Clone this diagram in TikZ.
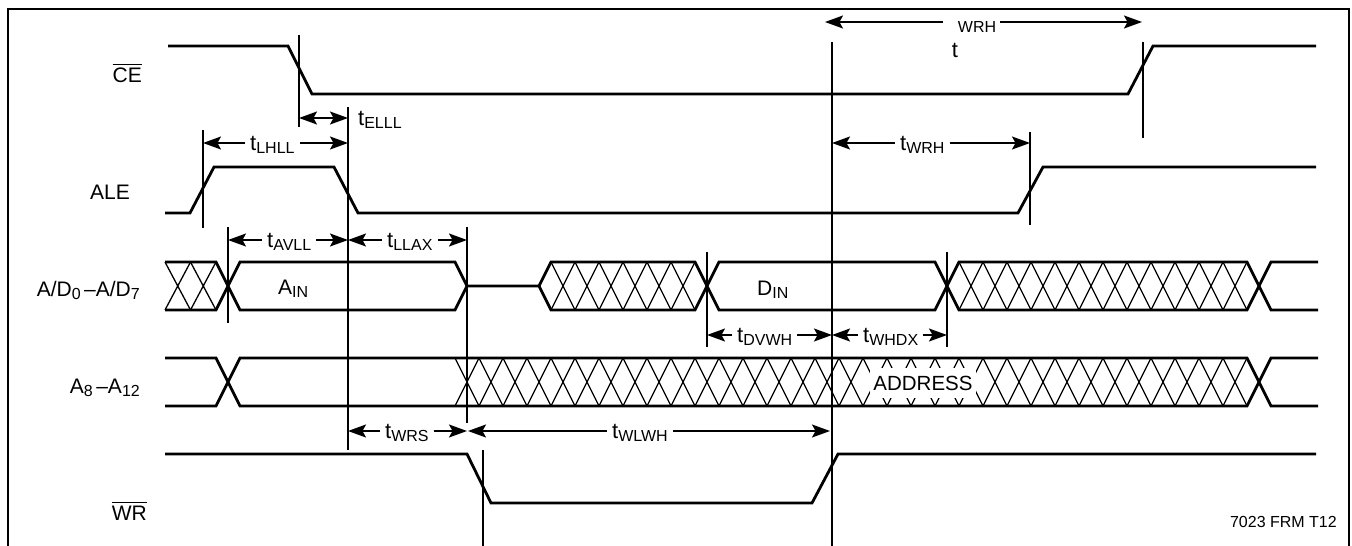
\documentclass[tikz,border=0pt]{standalone}
\usepackage{fontspec}
\setmainfont{Liberation Sans}
\usetikzlibrary{arrows.meta}

\newcommand\tsub[1]{\raisebox{-3pt}{\fontsize{16}{18}\selectfont #1}}
\newcommand\ovl[1]{\vbox{\hrule height 1.3pt\kern 2.5pt\hbox{#1}}}

\begin{document}
\begin{tikzpicture}[x=1pt, y=-1pt,
   >={Stealth[length=18pt,width=13pt,inset=3.5pt]},
   sig/.style={draw=black, line width=2.8pt},
   xing/.style={draw=black, line width=1.3pt},
   refline/.style={draw=black, line width=1.4pt},
   dim/.style={draw=black, line width=1.4pt, ->},
   siglabel/.style={font=\fontsize{21}{24}\selectfont, inner sep=0pt, anchor=base east},
   datalabel/.style={font=\fontsize{21}{24}\selectfont, inner sep=0pt, anchor=base west},
   tlabel/.style={font=\fontsize{22}{24}\selectfont, inner xsep=5pt, inner ysep=0pt, anchor=base west}]

	  \useasboundingbox (0,0) rectangle (1352,546);

	  % frame
	  \draw[line width=2.5pt] (8,548) -- (8,9) -- (1349,9) -- (1349,548);

	  % signal names
	  \node [siglabel] (ce) at (142,82) {\ovl{CE}};
	  \node [siglabel] (ale) at (130,199) {ALE};
	  \node [siglabel] (ad) at (140,296) {A/D\tsub{0}\,–A/D\tsub{7}};
	  \node [siglabel] (addr) at (140,393) {A\tsub{8}\,–A\tsub{12}};
	  \node [siglabel] (wr) at (147,520) {\ovl{WR}};

	  % CE, ALE, WR
	  \draw[sig] (168,46) -- (288,46) -- (312,94) -- (1128,94) -- (1153,46) -- (1316,46);
	  \draw[sig] (165,213) -- (190,213) -- (214,167) -- (334,167) -- (358,213) -- (1018,213) -- (1043,167) -- (1316,167);
	  \draw[sig] (165,454) -- (467,454) -- (491,503) -- (812,503) -- (838,454) -- (1316,454);

	  % A/D0-A/D7
	  \draw[sig] (165,262) -- (216,262) -- (240,310) -- (455,310) -- (467,286) -- (539,286) -- (551,310) -- (695,310)
	     -- (719,262) -- (935,262) -- (959,310) -- (1247,310) -- (1271,262) -- (1318,262);
	  \draw[sig] (165,310) -- (216,310) -- (240,262) -- (455,262) -- (467,286);
	  \draw[sig] (539,286) -- (551,262) -- (695,262) -- (719,310) -- (935,310) -- (959,262) -- (1247,262)
	     -- (1271,310) -- (1318,310);
	  \foreach \x in {165,190.5}
	    \draw[xing] (\x,262) -- (\x+25.5,310) (\x,310) -- (\x+25.5,262);
	  \foreach \x in {551,575,...,671}
	    \draw[xing] (\x,262) -- (\x+24,310) (\x,310) -- (\x+24,262);
	  \foreach \x in {959,983,...,1223}
	    \draw[xing] (\x,262) -- (\x+24,310) (\x,310) -- (\x+24,262);
	  \node [datalabel] (ain) at (278,294) {A\tsub{IN}};
	  \node [datalabel] (din) at (757,295) {D\tsub{IN}};

	  % A8-A12
	  \draw[sig] (165,358) -- (216,358) -- (240,406) -- (1247,406) -- (1271,358) -- (1318,358);
	  \draw[sig] (165,406) -- (216,406) -- (240,358) -- (1247,358) -- (1271,406) -- (1318,406);
	  \foreach \x in {455,479,...,1223}
	    \draw[xing] (\x,358) -- (\x+24,406) (\x,406) -- (\x+24,358);
	  \node [fill=white, inner xsep=3pt, inner ysep=0pt, minimum height=30pt,
	     font=\fontsize{20.5}{22}\selectfont] (address) at (923,383) {ADDRESS};

	  % reference lines
	  \foreach \x/\ya/\yb in {299/35/127, 1143/42/138, 203/130/228, 348/107/450, 1030/132/225,
	     228/227/323, 467/227/423, 707/252/347, 947/252/347, 483/450/546, 832/42/546}
	    \draw[refline] (\x,\ya) -- (\x,\yb);

	  % timing parameters
	  \draw[dim, <->] (299,118) -- (348,118);
	  \node [tlabel] (telll) at (353,125) {t\tsub{ELLL}};

	  \node [tlabel] (tlhll) at (245,150) {t\tsub{LHLL}};
	  \draw[dim] (tlhll.west |- 0,143) -- (203,143);
	  \draw[dim] (tlhll.east |- 0,143) -- (348,143);

	  \node [tlabel] (tavll) at (262,247) {t\tsub{AVLL}};
	  \draw[dim] (tavll.west |- 0,240) -- (228,240);
	  \draw[dim] (tavll.east |- 0,240) -- (348,240);

	  \node [tlabel] (tllax) at (382,247) {t\tsub{LLAX}};
	  \draw[dim] (tllax.west |- 0,240) -- (348,240);
	  \draw[dim] (tllax.east |- 0,240) -- (467,240);

	  \node [tlabel] (tdvwh) at (732,342) {t\tsub{DVWH}};
	  \draw[dim] (tdvwh.west |- 0,335) -- (707,335);
	  \draw[dim] (tdvwh.east |- 0,335) -- (832,335);

	  \node [tlabel] (twhdx) at (858,342) {t\tsub{WHDX}};
	  \draw[dim] (twhdx.west |- 0,335) -- (832,335);
	  \draw[dim] (twhdx.east |- 0,335) -- (947,335);

	  \node [tlabel] (twrs) at (380,438) {t\tsub{WRS}};
	  \draw[dim] (twrs.west |- 0,431) -- (348,431);
	  \draw[dim] (twrs.east |- 0,431) -- (467,431);

	  \node [tlabel] (twlwh) at (607,438) {t\tsub{WLWH}};
	  \draw[dim] (twlwh.west |- 0,431) -- (468,431);
	  \draw[dim] (twlwh.east |- 0,431) -- (830,431);

	  \node [tlabel] (twrh) at (895,150) {t\tsub{WRH}};
	  \draw[dim] (twrh.west |- 0,143) -- (832,143);
	  \draw[dim] (twrh.east |- 0,143) -- (1030,143);

	  % split label at the top
	  \node [font=\fontsize{16}{18}\selectfont, inner sep=0pt] (wrhtop) at (977,27) {WRH};
	  \node [font=\fontsize{22}{24}\selectfont, inner sep=0pt, anchor=base] (ttop) at (955,57) {t};
	  \draw[dim] (943,22) -- (825,22);
	  \draw[dim] (1000,22) -- (1142,22);

	  \node [font=\fontsize{16}{18}\selectfont, inner sep=0pt, anchor=base east] (figno) at (1337,527) {7023 FRM T12};

	\end{tikzpicture}
\end{document}
